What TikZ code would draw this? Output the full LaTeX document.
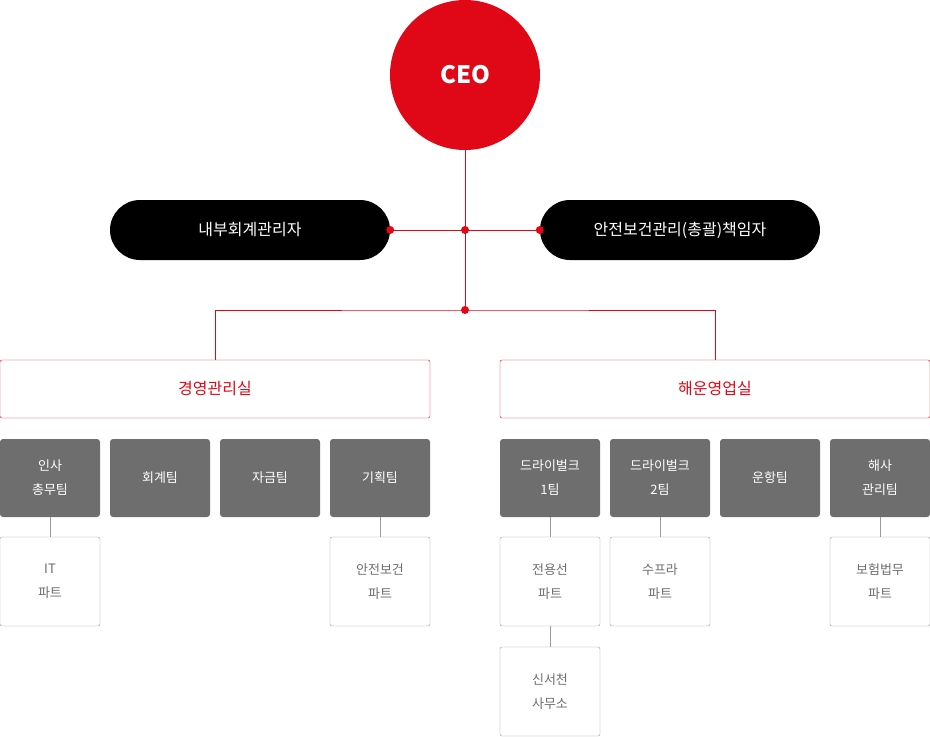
\documentclass[tikz,border=0pt]{standalone}
\usepackage{fontspec}
\setmainfont{Noto Sans CJK KR}
\definecolor{cred}{HTML}{E00716}
\definecolor{cgray}{HTML}{6E6E6E}
\definecolor{cline}{HTML}{9A9A9A}
\begin{document}
\begin{tikzpicture}[x=1pt,y=-1pt,
  pill/.style={draw=none,fill=black,rounded corners=30pt,minimum width=280pt,minimum height=60pt,text=white,font=\fontsize{16}{18}\selectfont},
  dept/.style={draw=cred,fill=white,rounded corners=2pt,minimum width=430pt,minimum height=58pt,text=cred,font=\fontsize{16}{18}\selectfont},
  team/.style={fill=cgray,rounded corners=3pt,minimum width=100pt,minimum height=78pt,text=white,align=center,font=\fontsize{13}{24}\selectfont},
  part/.style={draw=cline,fill=white,rounded corners=2pt,minimum width=100pt,minimum height=89pt,text=cgray,align=center,font=\fontsize{13}{24}\selectfont},
  rl/.style={cred,line width=0.8pt},
  gl/.style={cline,line width=0.8pt},
  dot/.style={circle,fill=cred,inner sep=0pt,minimum size=8pt}]
\useasboundingbox (0,0) rectangle (930,737);
\node[circle,fill=cred,minimum size=150pt,text=white,font=\bfseries\fontsize{24}{26}\selectfont] (ceo) at (465,75) {CEO};
\node[pill] (l) at (250,230) {내부회계관리자};
\node[pill] (r) at (680,230) {안전보건관리(총괄)책임자};
\node[dept] (d1) at (215,389) {경영관리실};
\node[dept] (d2) at (715,389) {해운영업실};
\coordinate (j1) at (465,230);
\coordinate (j2) at (465,310);
\draw[rl] (ceo.south) -- (j2);
\draw[rl] (l.east) -- (r.west);
\draw[rl] (d1.north) |- (j2) -| (d2.north);
\node[dot] at (l.east) {};
\node[dot] at (r.west) {};
\node[dot] at (j1) {};
\node[dot] at (j2) {};
\node[team] (t1) at (50,478) {인사\\총무팀};
\node[team] (t2) at (160,478) {회계팀};
\node[team] (t3) at (270,478) {자금팀};
\node[team] (t4) at (380,478) {기획팀};
\node[team] (t5) at (550,478) {드라이벌크\\1팀};
\node[team] (t6) at (660,478) {드라이벌크\\2팀};
\node[team] (t7) at (770,478) {운항팀};
\node[team] (t8) at (880,478) {해사\\관리팀};
\node[part] (p1) at (50,581.5) {IT\\파트};
\node[part] (p4) at (380,581.5) {안전보건\\파트};
\node[part] (p5) at (550,581.5) {전용선\\파트};
\node[part] (p6) at (660,581.5) {수프라\\파트};
\node[part] (p8) at (880,581.5) {보험법무\\파트};
\node[part] (p9) at (550,691.5) {신서천\\사무소};
\foreach \a/\b in {t1/p1,t4/p4,t5/p5,t6/p6,t8/p8,p5/p9}
  \draw[gl] (\a.south) -- (\b.north);
\end{tikzpicture}
\end{document}
